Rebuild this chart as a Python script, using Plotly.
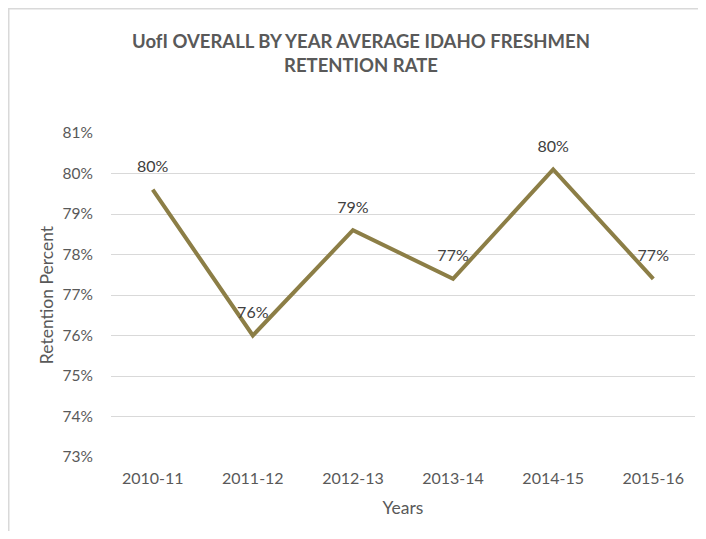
import plotly.graph_objects as go

years = ["2010-11", "2011-12", "2012-13", "2013-14", "2014-15", "2015-16"]
retention = [79.6, 76.0, 78.6, 77.4, 80.1, 77.4]
y_ticks = [73, 74, 75, 76, 77, 78, 79, 80, 81]
labels = [f"{round(v):.0f}%" for v in retention]

FONT = "Lato, 'Open Sans', sans-serif"
GRAY = "#595959"

# page has an 8px body margin; keep the figure inside the window
W, H = 690, 523
L, R, T, B = 103, 3, 125, 74
pw, ph = W - L - R, H - T - B

fig = go.Figure()
fig.add_trace(go.Scatter(
    x=years, y=retention,
    mode="lines+markers+text",
    line=dict(color="#8c7e46", width=4),
    marker=dict(size=20, opacity=0),
    text=labels, textposition="top center",
    textfont=dict(family=FONT, size=16, color="#404040"),
    cliponaxis=False, showlegend=False, hoverinfo="skip",
))

fig.update_layout(
    width=W, height=H,
    margin=dict(l=L, r=R, t=T, b=B),
    paper_bgcolor="white", plot_bgcolor="white",
    title=dict(
        text="<b>UofI OVERALL BY YEAR AVERAGE IDAHO FRESHMEN<br>RETENTION RATE</b>",
        x=353 / W, xanchor="center", xref="container",
        y=1 - 40 / H, yanchor="top", yref="container",
        font=dict(family=FONT, size=18.5, color=GRAY),
    ),
    xaxis=dict(
        type="category", showgrid=False, showline=False, zeroline=False,
        ticks="", ticklabelstandoff=10,
        tickfont=dict(family=FONT, size=16, color=GRAY),
        title=dict(text="Years", font=dict(family=FONT, size=17.5, color=GRAY), standoff=15),
    ),
    yaxis=dict(
        range=[73, 81], tickvals=y_ticks, ticktext=[f"{t}%" for t in y_ticks],
        showgrid=True, gridcolor="#d9d9d9", gridwidth=1, zeroline=False, showline=False,
        ticks="", ticklabelstandoff=17,
        tickfont=dict(family=FONT, size=15.5, color=GRAY),
        title=dict(text="Retention Percent", font=dict(family=FONT, size=17.5, color=GRAY), standoff=4),
    ),
    shapes=[
        dict(type="rect", xref="paper", yref="paper",
             x0=(0.75 - L) / pw, x1=(W + 40 - L) / pw,
             y0=-(B + 40) / ph, y1=(H - 0.75 - B) / ph,
             line=dict(color="#d9d9d9", width=1.5), fillcolor="rgba(0,0,0,0)", layer="below"),
    ],
)

fig.write_html("out.html")
